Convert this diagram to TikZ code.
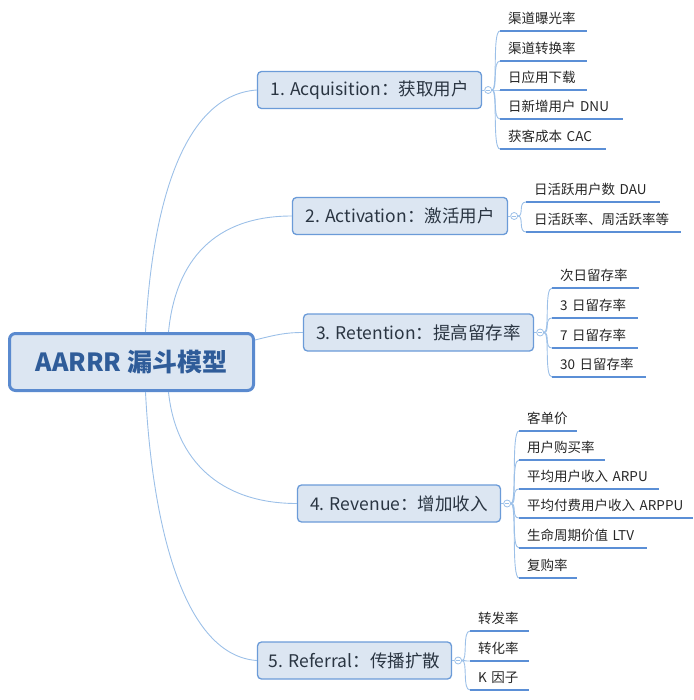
\documentclass[tikz,border=0pt]{standalone}
\usepackage{fontspec}
\setmainfont{Noto Sans CJK SC}
\usetikzlibrary{calc}
\definecolor{boxfill}{HTML}{DCE6F2}
\definecolor{boxline}{HTML}{6B9BD8}
\definecolor{rootline}{HTML}{5A8ACF}
\definecolor{connc}{HTML}{9CC0E8}
\definecolor{ulinec}{HTML}{5B8FD6}
\definecolor{roottext}{HTML}{2F5C99}
\definecolor{btext}{HTML}{2A3542}
\definecolor{ltext}{HTML}{262626}
\begin{document}
\begin{tikzpicture}[x=1pt,y=-1pt,
  rootbox/.style={draw=rootline, line width=3pt, fill=boxfill, rounded corners=6pt,
    minimum width=244pt, minimum height=57pt, inner sep=0pt,
    font=\fontsize{25}{30}\selectfont\bfseries, text=roottext},
  branchbox/.style={draw=boxline, line width=1.3pt, fill=boxfill, rounded corners=4pt,
    minimum height=37pt, inner sep=0pt, font=\fontsize{17.5}{21}\selectfont, text=btext},
  fold/.style={circle, draw=connc, fill=white, line width=0.8pt, minimum size=7pt, inner sep=0pt,
    path picture={\draw[connc, line width=0.7pt]
      ($(path picture bounding box.west)+(1.5,0)$) -- ($(path picture bounding box.east)+(-1.5,0)$);}},
  leaf/.style={anchor=south west, inner xsep=8pt, inner ysep=6pt, align=left,
    font=\fontsize{13.5}{16}\selectfont, text=ltext},
  link/.style={draw=connc, line width=0.9pt},
  uline/.style={draw=ulinec, line width=2pt}
]
\useasboundingbox (0,0) rectangle (693,700);

% root and branches
\node[rootbox] (root) at (131.5,362) {AARRR 漏斗模型};
\node[branchbox, minimum width=224pt] (b1) at (369.5,90) {1. Acquisition：获取用户};
\node[branchbox, minimum width=215pt] (b2) at (400,216) {2. Activation：激活用户};
\node[branchbox, minimum width=230pt] (b3) at (418.5,332.5) {3. Retention：提高留存率};
\node[branchbox, minimum width=203pt] (b4) at (399,503.5) {4. Revenue：增加收入};
\node[branchbox, minimum width=194pt] (b5) at (354.5,660.5) {5. Referral：传播扩散};

% root connectors
\draw[link] ($(root.north)+(14,0)$) .. controls +(7,-132) and +(-72,5) .. (b1.west);
\draw[link] ($(root.north)+(37,0)$) .. controls +(7,-72) and +(-77,0) .. (b2.west);
\draw[link] ($(root.east)+(0,-22)$) .. controls +(20,-5) and +(-18,0) .. (b3.west);
\draw[link] ($(root.south)+(37,0)$) .. controls +(7,68) and +(-77,0) .. (b4.west);
\draw[link] ($(root.south)+(14,0)$) .. controls +(7,138) and +(-72,-5) .. (b5.west);

% fold markers
\foreach \k in {1,...,5} {
  \node[fold] (f\k) at ($(b\k.east)+(6,0)$) {};
  \draw[link] (b\k.east) -- (f\k.west);
}

% leaves of branch 1
\foreach \i/\y/\tw/\t in {1/31/71/渠道曝光率, 2/61/71/渠道转换率, 3/90/71/日应用下载,
    4/119/107/日新增用户 DNU, 5/149/90/获客成本 CAC} {
  \node[leaf, text width=\tw pt] (la\i) at (500,\y) {\t};
  \draw[link] (f1.east) .. controls +(6,0) and +(-8,0) .. (la\i.south west);
  \draw[uline] (la\i.south west) -- (la\i.south east);
}
% leaves of branch 2
\foreach \i/\y/\tw/\t in {1/202/118/日活跃用户数 DAU, 2/232/139/日活跃率、周活跃率等} {
  \node[leaf, text width=\tw pt] (lb\i) at (526,\y) {\t};
  \draw[link] (f2.east) .. controls +(6,0) and +(-8,0) .. (lb\i.south west);
  \draw[uline] (lb\i.south west) -- (lb\i.south east);
}
% leaves of branch 3
\foreach \i/\y/\tw/\t in {1/288/71/次日留存率, 2/318/70/3 日留存率, 3/348/70/7 日留存率, 4/377/78/30 日留存率} {
  \node[leaf, text width=\tw pt] (lc\i) at (552,\y) {\t};
  \draw[link] (f3.east) .. controls +(6,0) and +(-8,0) .. (lc\i.south west);
  \draw[uline] (lc\i.south west) -- (lc\i.south east);
}
% leaves of branch 4
\foreach \i/\y/\tw/\t in {1/431/42/客单价, 2/460/70/用户购买率, 3/489/124/平均用户收入 ARPU,
    4/518/158/平均付费用户收入 ARPPU, 5/548/112/生命周期价值 LTV, 6/578/42/复购率} {
  \node[leaf, text width=\tw pt] (ld\i) at (519,\y) {\t};
  \draw[link] (f4.east) .. controls +(6,0) and +(-8,0) .. (ld\i.south west);
  \draw[uline] (ld\i.south west) -- (ld\i.south east);
}
% leaves of branch 5
\foreach \i/\y/\tw/\t in {1/631/43/转发率, 2/661/43/转化率, 3/690/43/K 因子} {
  \node[leaf, text width=\tw pt] (le\i) at (470,\y) {\t};
  \draw[link] (f5.east) .. controls +(6,0) and +(-8,0) .. (le\i.south west);
  \draw[uline] (le\i.south west) -- (le\i.south east);
}
\end{tikzpicture}
\end{document}
